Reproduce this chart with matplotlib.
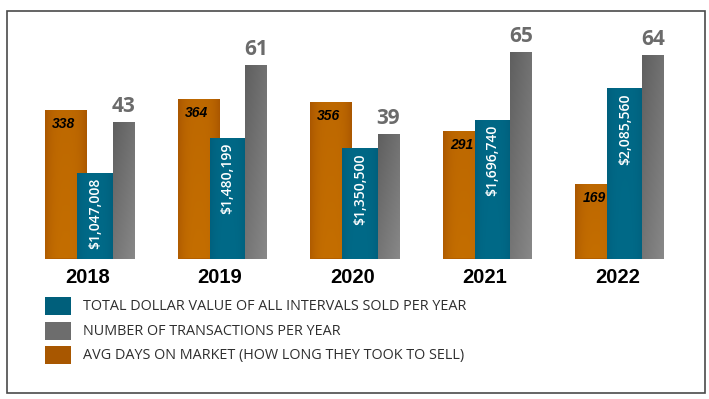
import numpy as np
import matplotlib
matplotlib.use('Agg')
import matplotlib.pyplot as plt
from matplotlib.colors import LinearSegmentedColormap
from matplotlib.patches import Rectangle

years = ['2018', '2019', '2020', '2021', '2022']
avg_days = [338, 364, 356, 291, 169]
dollar_value = [1047008, 1480199, 1350500, 1696740, 2085560]
transactions = [43, 61, 39, 65, 64]
series_names = ['TOTAL DOLLAR VALUE OF ALL INTERVALS SOLD PER YEAR',
                'NUMBER OF TRANSACTIONS PER YEAR',
                'AVG DAYS ON MARKET (HOW LONG THEY TOOK TO SELL)']

W, H = 709, 399
fig = plt.figure(figsize=(W / 100, H / 100), dpi=100)
fig.patch.set_facecolor('white')

base_px = 258.5
top_px = 20.0
ax = fig.add_axes([0, (H - base_px) / H, 1, (base_px - top_px) / H])
ax2 = ax.twinx()
ax3 = ax.twinx()
for a in (ax, ax2, ax3):
    a.set_axis_off()

U = 132.5  # pixels per group
px = lambda p: p / U
xs = np.arange(len(years))

C_OR = '#b35f00'
C_TE = '#006786'
C_GR = '#6e6e6e'

cm_or = LinearSegmentedColormap.from_list('or', ['#aa5700', '#c46e00'])
cm_te = LinearSegmentedColormap.from_list('te', ['#005f7c', '#006a88'])
cm_gr = LinearSegmentedColormap.from_list('gr', ['#5f5f5f', '#888888'])

nx, ny = 40, 80
gx, gy = np.meshgrid(np.linspace(0, 1, nx), np.linspace(0, 1, ny))
arr_or = np.clip(0.75 * (1 - np.abs(2 * gx - 1) ** 3) + 0.25 * (1 - gy), 0, 1)
arr_te = np.clip(0.8 * (1 - np.abs(2 * gx - 1) ** 3) + 0.2 * (1 - gy), 0, 1)
arr_gr = np.clip(0.45 * gx + 0.55 * (1 - gy), 0, 1)

or_w, te_w, gr_w = px(42), px(35.5), px(21.5)
or_c = xs + px(-44.5 + 21)
te_c = xs + px(-12.5 + 17.75)
gr_c = xs + px(23 + 10.75)


def grad_bars(a, bars, cmap, arr):
    for b in bars:
        x0, w, h = b.get_x(), b.get_width(), b.get_height()
        im = a.imshow(arr, extent=(x0, x0 + w, 0, h), origin='lower', aspect='auto',
                      cmap=cmap, vmin=0, vmax=1, interpolation='bilinear', zorder=2)
        im.set_clip_path(b)


b_or = ax.bar(or_c, avg_days, width=or_w, color=C_OR, zorder=1)
grad_bars(ax, b_or, cm_or, arr_or)
b_te = ax2.bar(te_c, dollar_value, width=te_w, color=C_TE, zorder=1)
grad_bars(ax2, b_te, cm_te, arr_te)
b_gr = ax3.bar(gr_c, transactions, width=gr_w, color=C_GR, zorder=1)
grad_bars(ax3, b_gr, cm_gr, arr_gr)

xl = (-89.5 / U, (W - 89.5) / U)
for a in (ax, ax2, ax3):
    a.set_xlim(*xl)
ax.set_ylim(0, (base_px - top_px) / 0.439)
ax2.set_ylim(0, (base_px - top_px) / 8.16e-5)
ax3.set_ylim(0, (base_px - top_px) / 3.18)

P = 0.72  # points per pixel

# orange labels
for x, v in zip(or_c, avg_days):
    ax.annotate(f'{v}', xy=(x, v), xytext=(-2 * P, -18 * P), textcoords='offset points',
                ha='center', va='baseline', fontsize=10, fontweight='bold', fontstyle='italic',
                family='Liberation Sans', color='black', zorder=5)
# teal labels
for x, v in zip(te_c, dollar_value):
    ax2.annotate(f'${v:,}', xy=(x, v), xytext=(0, -5 * P), textcoords='offset points',
                 ha='center', va='top', rotation=90, fontsize=10, family='Open Sans',
                 fontweight='semibold', color='white', zorder=5)
# gray labels
for x, v in zip(gr_c, transactions):
    ax3.annotate(f'{v}', xy=(x, v), xytext=(0, 10 * P), textcoords='offset points',
                 ha='center', va='baseline', fontsize=15, fontweight='bold',
                 family='Open Sans', color='#6b6b6b', zorder=5)
# year labels
for x, y in zip(xs, years):
    ax.annotate(y, xy=(x, 0), xycoords=('data', 'axes fraction'), xytext=(-2 * P, -24.5 * P),
                textcoords='offset points', ha='center', va='baseline', fontsize=14.5,
                fontweight='heavy', family='Liberation Sans', color='black',
                annotation_clip=False)

# legend
leg_colors = ['#005f7b', '#6d6d6d', '#a85700']
leg_tops = [297, 322, 346]
for name, c, t in zip(series_names, leg_colors, leg_tops):
    fig.add_artist(Rectangle((45 / W, 1 - (t + 18) / H), 26 / W, 18 / H,
                             transform=fig.transFigure, facecolor=c, edgecolor='none'))
    fig.text(83 / W, 1 - (t + 9.5) / H, name, ha='left', va='center', fontsize=10.4,
             family='Open Sans', color='#2e2e2e')

# border
fig.add_artist(Rectangle((6.5 / W, 1 - 392.5 / H), (705 - 6.5) / W, (392.5 - 11) / H,
                         transform=fig.transFigure, fill=False, edgecolor='#4a4a4a', lw=1.2))

fig.savefig('out.png', dpi=100, facecolor='white')
